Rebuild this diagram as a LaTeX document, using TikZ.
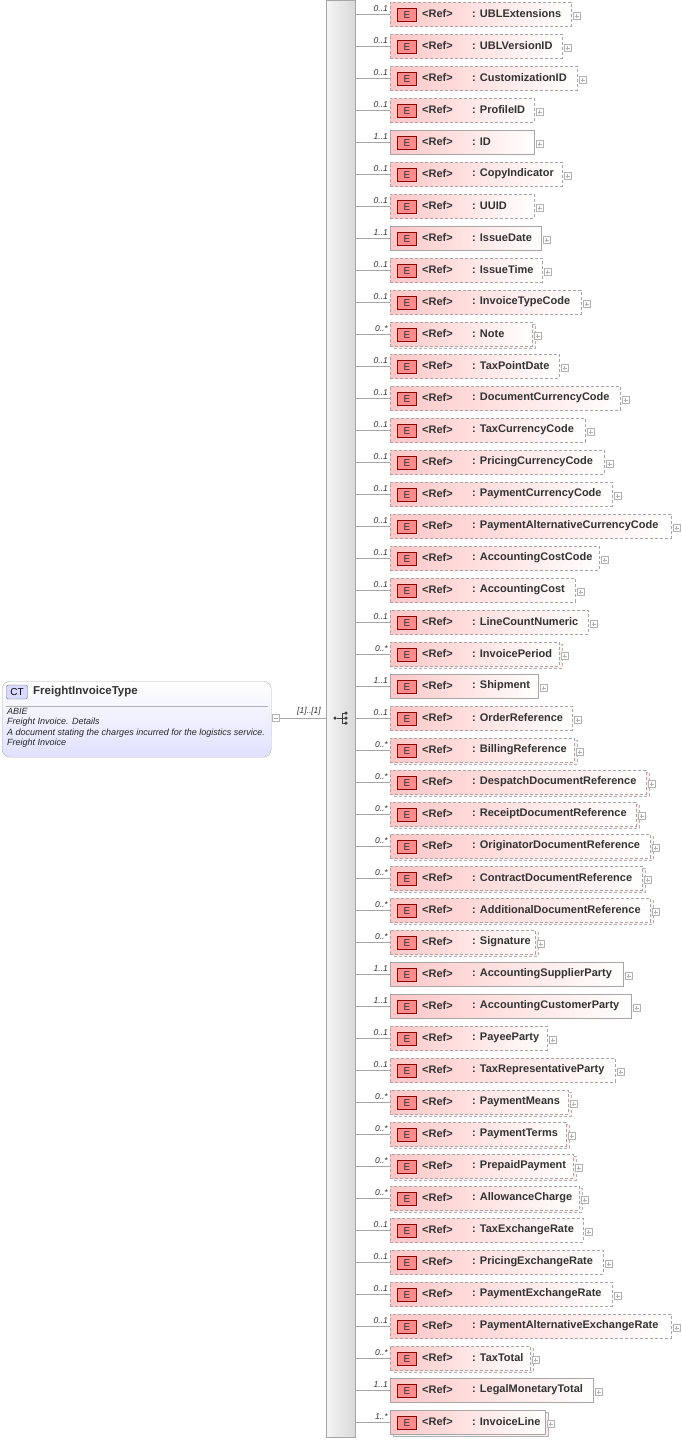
\documentclass[tikz,border=0pt]{standalone}
\usepackage{fontspec}
\setmainfont{Liberation Sans}
\begin{document}
\begin{tikzpicture}[x=1pt,y=-1pt,
  elbox/.style={draw=gray!70, shade, left color=red!22, right color=white, minimum height=24pt, inner sep=0pt, anchor=west},
  opt/.style={dashed, dash pattern=on 3pt off 2pt},
  badge/.style={draw=red!55!black, fill=red!45, minimum width=19pt, minimum height=13pt, inner sep=0pt, font=\fontsize{10}{11}\selectfont, text=black!80},
  lbl/.style={font=\bfseries\fontsize{11}{12}\selectfont, text=black!80, anchor=west, inner sep=0pt},
  mult/.style={font=\itshape\fontsize{8.5}{9}\selectfont, text=black!80, anchor=south east, inner sep=1pt},
  plusbox/.style={draw=gray!60, fill=white, minimum size=7pt, inner sep=0pt},
  conn/.style={draw=gray!70, line width=0.6pt}]
\useasboundingbox (0,0) rectangle (681,1441);
% sequence bar
\node[draw=gray!70, shade, left color=gray!8, right color=gray!30, minimum width=29pt, minimum height=1437pt, anchor=north west, inner sep=0pt] (bar) at (326,0) {};
% CT box
\node[draw=gray!60, rounded corners=8pt, shade, top color=white, bottom color=blue!12, minimum width=269pt, minimum height=76pt, anchor=north west, inner sep=0pt] (ct) at (2,681) {};
\node[draw=black!60, fill=blue!15, rounded corners=2pt, font=\fontsize{10}{11}\selectfont, minimum width=21pt, minimum height=14pt, inner sep=0pt] (ctb) at (17,692) {CT};
\node[lbl, font=\bfseries\fontsize{11.5}{12}\selectfont] (ctname) at (33,692) {FreightInvoiceType};
\draw[gray!60] (6,706) -- (268,706);
\node[anchor=north west, inner sep=0pt, align=left, font=\itshape\fontsize{9}{10.5}\selectfont, text=black!85] (ctdoc) at (7,708) {ABIE\\Freight Invoice. Details\\A document stating the charges incurred for the logistics service.\\Freight Invoice};
\node[plusbox] (ctm) at (275.5,718) {};
\draw[gray!70] (273.5,718) -- (277.5,718);
\coordinate (barin) at (326,718);
\draw[conn] (ctm.east) -- (barin);
\node[mult, anchor=south] (seqm) at (309,716) {[1]..[1]};
% sequence icon
\node[circle, fill=black!75, inner sep=0pt, minimum size=3.5pt] (s0) at (335,718) {};
\foreach \dy in {-5,0,5} \node[circle, fill=black!75, inner sep=0pt, minimum size=3.5pt] at (346,718+\dy) {};
\draw[black!75, line width=0.6pt] (s0) -- (342,718) (342,713) -- (342,723) (342,713) -- (346,713) (342,723) -- (346,723) (342,718) -- (346,718);
% elements
\foreach [count=\i] \nm/\mu/\r/\t in {
UBLExtensions/0..1/571/o, UBLVersionID/0..1/562/o, CustomizationID/0..1/577/o, ProfileID/0..1/534/o, ID/1..1/534/m,
CopyIndicator/0..1/562/o, UUID/0..1/534/o, IssueDate/1..1/541/m, IssueTime/0..1/542/o, InvoiceTypeCode/0..1/581/o,
Note/0..*/532/n, TaxPointDate/0..1/559/o, DocumentCurrencyCode/0..1/620/o, TaxCurrencyCode/0..1/585/o, PricingCurrencyCode/0..1/604/o,
PaymentCurrencyCode/0..1/612/o, PaymentAlternativeCurrencyCode/0..1/671/o, AccountingCostCode/0..1/599/o, AccountingCost/0..1/575/o, LineCountNumeric/0..1/588/o,
InvoicePeriod/0..*/559/n, Shipment/1..1/538/m, OrderReference/0..1/572/o, BillingReference/0..*/574/n, DespatchDocumentReference/0..*/646/n,
ReceiptDocumentReference/0..*/636/n, OriginatorDocumentReference/0..*/650/n, ContractDocumentReference/0..*/642/n, AdditionalDocumentReference/0..*/650/n, Signature/0..*/535/n,
AccountingSupplierParty/1..1/623/m, AccountingCustomerParty/1..1/631/m, PayeeParty/0..1/547/o, TaxRepresentativeParty/0..1/615/o, PaymentMeans/0..*/568/n,
PaymentTerms/0..*/566/n, PrepaidPayment/0..*/573/n, AllowanceCharge/0..*/579/n, TaxExchangeRate/0..1/583/o, PricingExchangeRate/0..1/603/o,
PaymentExchangeRate/0..1/612/o, PaymentAlternativeExchangeRate/0..1/671/o, TaxTotal/0..*/530/n, LegalMonetaryTotal/1..1/593/m, InvoiceLine/1..*/545/k}
{
  \pgfmathsetmacro{\yy}{14+32*(\i-1)}
  \pgfmathsetmacro{\ww}{\r-390}
  \if\t n
    \draw[gray!60, opt, fill=red!6] (393,\yy-10) rectangle (\r+3,\yy+14);
  \fi
  \if\t k
    \draw[gray!60, fill=red!6] (393,\yy-10) rectangle (\r+3,\yy+14);
  \fi
  \if\t o
    \node[elbox, opt, minimum width=\ww pt] (e\i) at (390,\yy) {};
  \else\if\t n
    \node[elbox, opt, minimum width=\ww pt] (e\i) at (390,\yy) {};
  \else
    \node[elbox, minimum width=\ww pt] (e\i) at (390,\yy) {};
  \fi\fi
  \node[badge] (b\i) at (407,\yy+1) {E};
  \node[lbl] (r\i) at (422,\yy) {<Ref>};
  \node[lbl] (n\i) at (472,\yy) {: \nm};
  \node[plusbox] (p\i) at (\r+5.5,\yy+2) {};
  \draw[gray!60, line width=0.4pt] (\r+3.5,\yy+2) -- (\r+7.5,\yy+2) (\r+5.5,\yy) -- (\r+5.5,\yy+4);
  \coordinate (c\i) at (355,\yy);
  \draw[conn] (c\i) -- (e\i.west);
  \node[mult] (m\i) at (389,\yy-1) {\mu};
}
\end{tikzpicture}
\end{document}
